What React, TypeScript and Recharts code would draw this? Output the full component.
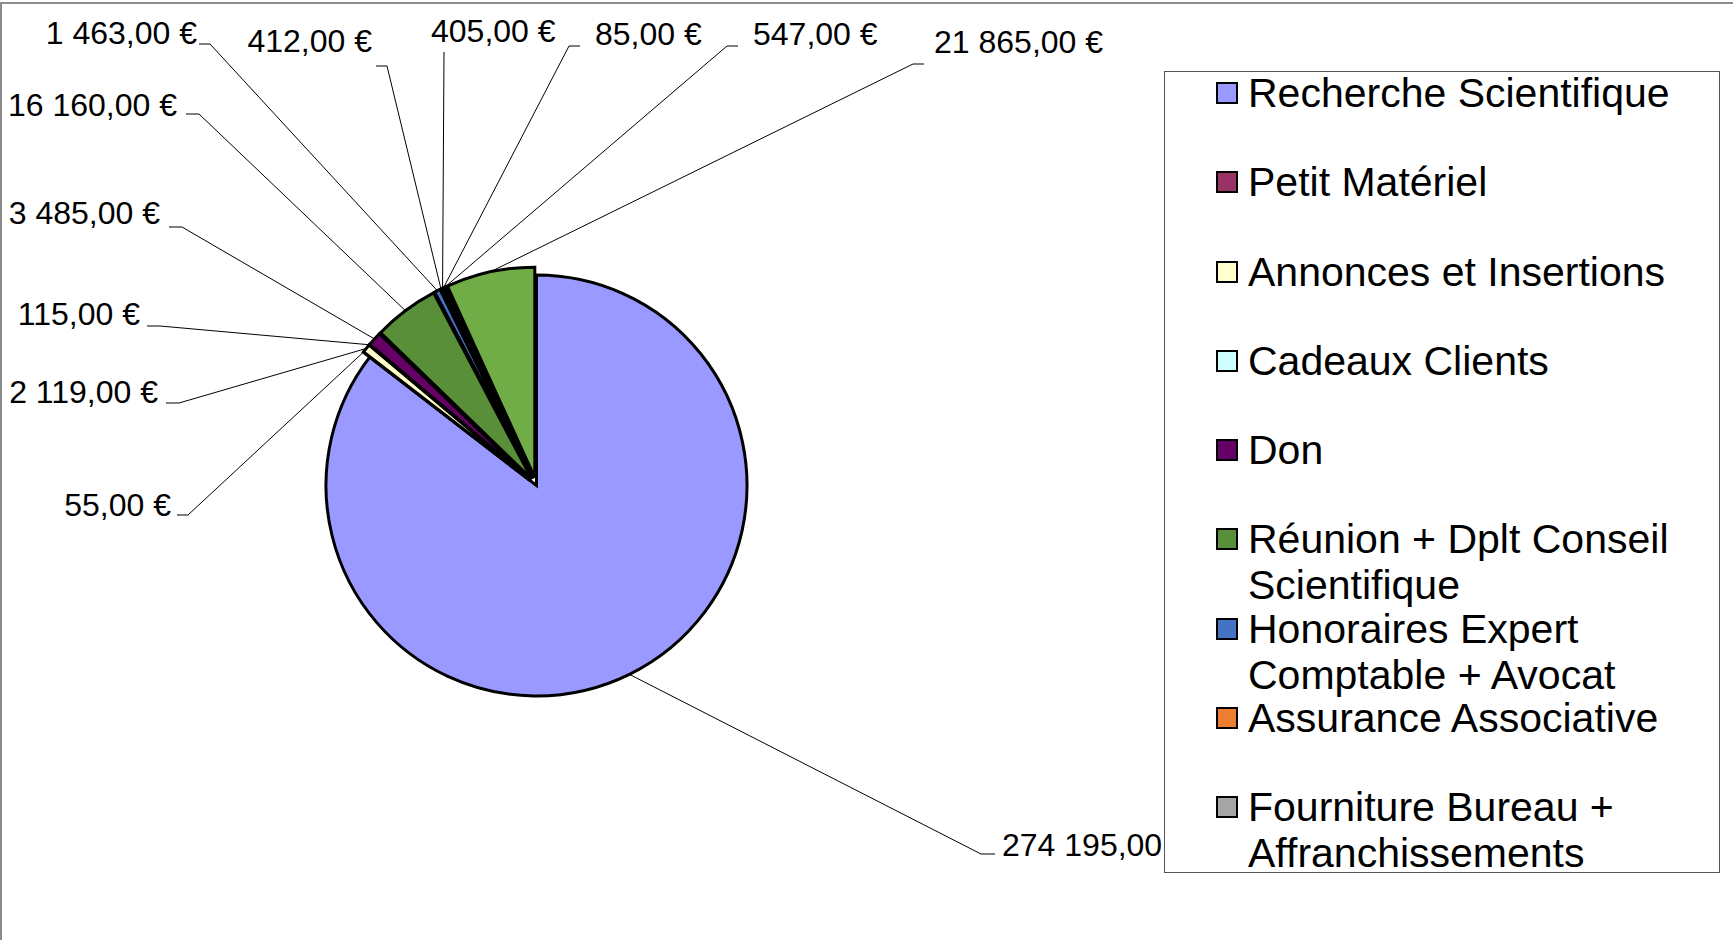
import React from "react"
import { PieChart, Pie, Cell, Legend, Sector } from "recharts"

// categories in clockwise order from 12 o'clock
const categories = [
    "Recherche Scientifique",
    "Petit Matériel",
    "Annonces et Insertions",
    "Cadeaux Clients",
    "Don",
    "Réunion + Dplt Conseil Scientifique",
    "Honoraires Expert Comptable + Avocat",
    "Assurance Associative",
    "Fourniture Bureau + Affranchissements",
    "Catégorie 10",
    "Catégorie 11",
    "Catégorie 12",
]
const amounts = [274195, 55, 2119, 115, 3485, 16160, 1463, 412, 405, 85, 547, 21865]
const colors = ["#9999FF", "#993366", "#FFFFCC", "#CCFFFF", "#660066", "#5A8F3A", "#4472C4", "#ED7D31", "#A5A5A5", "#FFC000", "#5B9BD5", "#70AD47"]
// only the first 9 entries fit in the legend box
const legendCount = 9

const chartData = categories.map((name, i) => ({ name, value: amounts[i] }))

// hand placed label spots (text anchor + leader elbow)
const labelLayout = [
    { tx: 1002, ty: 845, anchor: "start", ex: 981, ey: 854, hx: 995 },
    { tx: 171, ty: 505, anchor: "end", ex: 188, ey: 515, hx: 177 },
    { tx: 158, ty: 392, anchor: "end", ex: 179, ey: 403, hx: 166 },
    { tx: 140, ty: 314, anchor: "end", ex: 160, ey: 326, hx: 147 },
    { tx: 160, ty: 213, anchor: "end", ex: 182, ey: 227, hx: 169 },
    { tx: 177, ty: 105, anchor: "end", ex: 199, ey: 114, hx: 186 },
    { tx: 197, ty: 33, anchor: "end", ex: 210, ey: 44, hx: 199 },
    { tx: 372, ty: 41, anchor: "end", ex: 387, ey: 66, hx: 376 },
    { tx: 431, ty: 31, anchor: "start", ex: 444, ey: 52, hx: 444 },
    { tx: 595, ty: 34, anchor: "start", ex: 569, ey: 46, hx: 580 },
    { tx: 753, ty: 34, anchor: "start", ex: 727, ey: 46, hx: 738 },
    { tx: 934, ty: 42, anchor: "start", ex: 913, ey: 64, hx: 924 },
]

const FONT = "'Liberation Sans', Arial, sans-serif"
const RAD = Math.PI / 180
const EXPLODE = 8

const fmt = (v: number) => {
    const [int, dec] = v.toFixed(2).split(".")
    return int.replace(/\B(?=(\d{3})+(?!\d))/g, " ") + "," + dec + " €"
}

const ExplodedSector = (props: any) => {
    const { cx, cy, startAngle, endAngle } = props
    const name = props.payload?.name ?? props.name
    const off = name === categories[0] ? 0 : EXPLODE
    const mid = (startAngle + endAngle) / 2
    return <Sector {...props} cx={cx + off * Math.cos(-mid * RAD)} cy={cy + off * Math.sin(-mid * RAD)} />
}

const renderLabel = (props: any) => {
    const { cx, cy, midAngle, outerRadius, index, value } = props
    const l = labelLayout[index]
    if (!l) return null
    const r = outerRadius + (index === 0 ? 0 : EXPLODE)
    const sx = cx + r * Math.cos(-midAngle * RAD)
    const sy = cy + r * Math.sin(-midAngle * RAD)
    return (
        <g key={`lbl-${index}`}>
            <polyline points={`${sx},${sy} ${l.ex},${l.ey} ${l.hx},${l.ey}`} fill="none" stroke="#000" strokeWidth={1} />
            <text x={l.tx} y={l.ty} textAnchor={l.anchor as any} dominantBaseline="central" fontSize={32} fontFamily={FONT} fill="#000">
                {fmt(value)}
            </text>
        </g>
    )
}

const renderLegend = () => (
    <div style={{ position: "relative", width: 556, height: 802, background: "#fff", border: "1px solid #555", boxSizing: "border-box", fontFamily: FONT }}>
        {categories.slice(0, legendCount).map((name, i) => (
            <div key={name} style={{ position: "absolute", left: 51, top: -2 + i * 89.25, display: "flex", alignItems: "flex-start" }}>
                <div style={{ width: 22, height: 22, marginTop: 12, background: colors[i], border: "2px solid #000", boxSizing: "border-box", flex: "none" }} />
                <div style={{ marginLeft: 10, width: 460, fontSize: 41, lineHeight: "46px", color: "#000" }}>{name}</div>
            </div>
        ))}
    </div>
)

export default function App() {
    return (
        <div style={{ position: "absolute", left: 0, top: 0, width: 1733, height: 940, background: "#fff", overflow: "hidden" }}>
            <div style={{ position: "absolute", left: 0, top: 2, width: 1800, height: 1000, borderTop: "2px solid #8c8c8c", borderLeft: "2px solid #8c8c8c" }} />
            <PieChart width={1733} height={940} margin={{ top: 0, right: 0, bottom: 0, left: 0 }} style={{ position: "absolute", left: 0, top: 0 }}>
                <Pie
                    data={chartData}
                    dataKey="value"
                    nameKey="name"
                    cx={536.5}
                    cy={485.5}
                    outerRadius={210.5}
                    startAngle={90}
                    endAngle={-270}
                    label={renderLabel}
                    labelLine={false}
                    shape={ExplodedSector}
                    isAnimationActive={false}
                >
                    {chartData.map((d, i) => (
                        <Cell key={d.name} fill={colors[i]} stroke="#000" strokeWidth={3} />
                    ))}
                </Pie>
                <Legend
                    layout="vertical"
                    align="right"
                    verticalAlign="middle"
                    content={renderLegend}
                    wrapperStyle={{ position: "absolute", left: 1164, top: 71, width: 556, height: 802 }}
                />
            </PieChart>
        </div>
    )
}
